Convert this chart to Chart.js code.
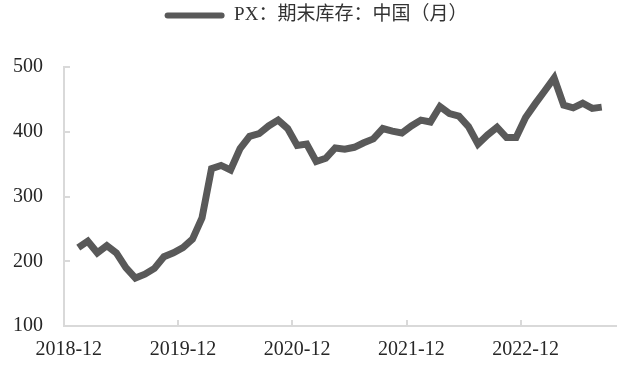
<!DOCTYPE html>
<html>
<head>
<meta charset="utf-8">
<script src="https://cdn.jsdelivr.net/npm/chart.js@4/dist/chart.umd.min.js"></script>
<style>
html,body{margin:0;padding:0;background:#fff;}
#wrap{width:617px;height:369px;position:relative;}
</style>
</head>
<body>
<div id="wrap"><canvas id="c" width="617" height="369"></canvas></div>
<script>
const seriesName = 'PX：期末库存：中国（月）';
const months = [
 '2018-12',
 '2019-01','2019-02','2019-03','2019-04','2019-05','2019-06','2019-07','2019-08','2019-09','2019-10','2019-11','2019-12',
 '2020-01','2020-02','2020-03','2020-04','2020-05','2020-06','2020-07','2020-08','2020-09','2020-10','2020-11','2020-12',
 '2021-01','2021-02','2021-03','2021-04','2021-05','2021-06','2021-07','2021-08','2021-09','2021-10','2021-11','2021-12',
 '2022-01','2022-02','2022-03','2022-04','2022-05','2022-06','2022-07','2022-08','2022-09','2022-10','2022-11','2022-12',
 '2023-01','2023-02','2023-03','2023-04','2023-05','2023-06','2023-07','2023-08','2023-09'
];
const stock = [
 null,
 221,231,213,224,213,190,174,180,189,207,213,221,
 234,267,343,348,341,374,393,397,409,418,405,379,
 381,354,359,375,373,376,383,389,405,401,398,409,
 418,415,439,428,424,408,381,395,407,391,391,422,
 443,463,483,441,437,444,436,438,null
];
const yTicks = [100,200,300,400,500];
const xLabelEvery = 12;

const tickFont = {family:'"Liberation Serif","Times New Roman",serif', size:20};
const axisColor = '#d9d9d9';

const tickMarks = {
  id:'tickMarks',
  afterDraw(chart){
    const ctx = chart.ctx, xs = chart.scales.x, ys = chart.scales.y;
    const half = (xs.getPixelForValue(1) - xs.getPixelForValue(0)) / 2;
    ctx.save();
    ctx.strokeStyle = axisColor;
    ctx.lineWidth = 2;
    ctx.beginPath();
    for (let i = 0; i < months.length; i += xLabelEvery) {
      const px = Math.round(xs.getPixelForValue(i) - half);
      ctx.moveTo(px, ys.bottom);
      ctx.lineTo(px, ys.bottom - 6);
    }
    for (const v of yTicks) {
      const py = Math.round(ys.getPixelForValue(v));
      ctx.moveTo(xs.left, py);
      ctx.lineTo(xs.left + 6, py);
    }
    ctx.stroke();
    ctx.restore();
  }
};

const legendSpacer = {
  id:'legendSpacer',
  beforeLayout(chart){
    const lg = chart.legend;
    if (lg && !lg._spacerPatched) {
      const origFit = lg.fit;
      lg.fit = function(){ origFit.apply(this, arguments); this.height += 32; };
      const origDraw = lg.draw;
      lg.draw = function(){
        const ctx = this.ctx;
        ctx.save();
        ctx.translate(8, 0);
        origDraw.apply(this, arguments);
        ctx.restore();
      };
      lg._spacerPatched = true;
    }
  }
};

new Chart(document.getElementById('c'), {
  type:'line',
  data:{
    labels: months,
    datasets:[{
      label: seriesName,
      data: stock,
      borderColor:'#595959',
      backgroundColor:'#595959',
      borderWidth:7,
      pointRadius:0,
      tension:0,
      spanGaps:false,
      borderJoinStyle:'miter'
    }]
  },
  options:{
    responsive:false,
    animation:false,
    layout:{padding:{left:0,right:1,top:0,bottom:0}},
    plugins:{
      legend:{
        display:true,
        position:'top',
        labels:{
          boxWidth:60,
          boxHeight:6,
          useBorderRadius:true,
          borderRadius:3,
          padding:6,
          color:'#333333',
          font:{family:'"Liberation Serif","Noto Sans CJK SC",serif', size:19},
          generateLabels(chart){
            const items = Chart.defaults.plugins.legend.labels.generateLabels(chart);
            items.forEach(it => { it.lineWidth = 0; it.strokeStyle = 'transparent'; });
            return items;
          }
        }
      },
      tooltip:{enabled:false}
    },
    scales:{
      x:{
        type:'category',
        offset:true,
        grid:{display:false, drawTicks:false},
        border:{display:true, color:axisColor, width:2},
        ticks:{
          autoSkip:false,
          maxRotation:0,
          minRotation:0,
          padding:12,
          color:'#262626',
          font:tickFont,
          callback(val, i){ return i % xLabelEvery === 0 ? months[i] : null; }
        },
        afterFit(s){ s.height = 43; }
      },
      y:{
        min:100,
        max:500,
        afterBuildTicks(s){ s.ticks = yTicks.map(v => ({value:v})); },
        grid:{display:false, drawTicks:false},
        border:{display:true, color:axisColor, width:2},
        ticks:{
          padding:21,
          color:'#262626',
          font:tickFont
        },
        afterFit(s){ s.width = 64; }
      }
    }
  },
  plugins:[tickMarks, legendSpacer]
});
</script>
</body>
</html>
